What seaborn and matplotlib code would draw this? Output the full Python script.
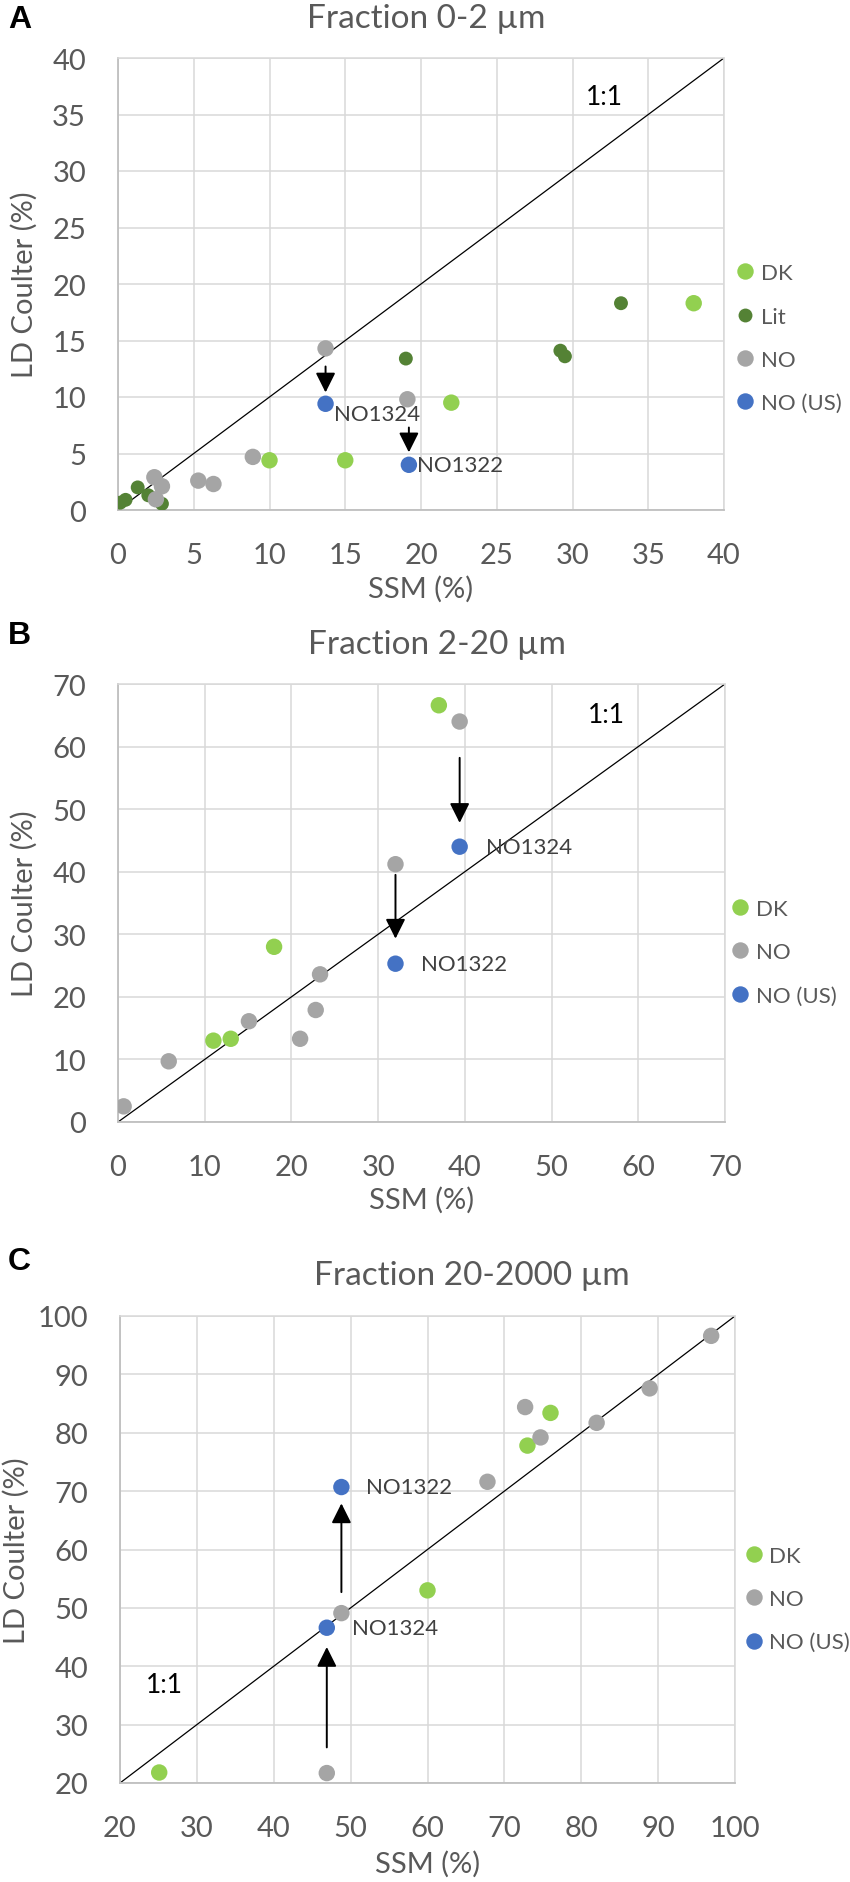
import matplotlib
matplotlib.use("Agg")
import matplotlib.pyplot as plt
import seaborn as sns
import pandas as pd

# ---------------- data ----------------
groups_A = ["DK", "Lit", "NO", "NO (US)"]
groups_BC = ["DK", "NO", "NO (US)"]

# Panel A: Fraction 0-2 um
a_dk_x = [10.0, 15.0, 22.0, 38.0]
a_dk_y = [4.4, 4.4, 9.5, 18.3]
a_lit_x = [0.15, 0.5, 1.3, 2.0, 2.9, 19.0, 29.2, 29.5, 33.2]
a_lit_y = [0.65, 0.9, 2.0, 1.3, 0.55, 13.4, 14.1, 13.6, 18.3]
a_no_x = [2.4, 2.9, 2.5, 5.3, 6.3, 8.9, 13.7, 19.1]
a_no_y = [2.9, 2.1, 0.95, 2.6, 2.3, 4.7, 14.3, 9.8]
a_us_x = [13.7, 19.2]
a_us_y = [9.4, 4.0]
a_us_names = ["NO1324", "NO1322"]
a_arrow_x = [13.7, 19.2]
a_arrow_from = [12.7, 7.3]
a_arrow_to = [10.4, 5.1]
a_line = [0, 40]
a_ticks = [0, 5, 10, 15, 20, 25, 30, 35, 40]

# Panel B: Fraction 2-20 um
b_dk_x = [11.0, 13.0, 18.0, 37.0]
b_dk_y = [13.0, 13.3, 28.0, 66.6]
b_no_x = [0.65, 5.85, 15.1, 21.0, 22.8, 23.3, 32.0, 39.4]
b_no_y = [2.5, 9.7, 16.1, 13.3, 17.9, 23.6, 41.2, 64.0]
b_us_x = [39.4, 32.0]
b_us_y = [44.0, 25.3]
b_us_names = ["NO1324", "NO1322"]
b_arrow_x = [39.4, 32.0]
b_arrow_from = [58.2, 39.5]
b_arrow_to = [47.8, 29.3]
b_line = [0, 70]
b_ticks = [0, 10, 20, 30, 40, 50, 60, 70]

# Panel C: Fraction 20-2000 um
c_dk_x = [25.1, 60.0, 73.0, 76.0]
c_dk_y = [21.8, 53.0, 77.8, 83.4]
c_no_x = [46.9, 48.8, 67.8, 72.7, 74.7, 82.0, 88.9, 96.9]
c_no_y = [21.7, 49.1, 71.6, 84.4, 79.2, 81.7, 87.6, 96.6]
c_us_x = [48.8, 46.9]
c_us_y = [70.7, 46.6]
c_us_names = ["NO1322", "NO1324"]
c_arrow_x = [46.9, 48.8]
c_arrow_from = [26.1, 52.7]
c_arrow_to = [43.3, 67.9]
c_line = [20, 100]
c_ticks = [20, 30, 40, 50, 60, 70, 80, 90, 100]

titles = ["Fraction 0-2 µm", "Fraction 2-20 µm", "Fraction 20-2000 µm"]
panel_letters = ["A", "B", "C"]

palette = {"DK": "#92D050", "Lit": "#548235", "NO": "#A5A5A5", "NO (US)": "#4472C4"}
sizes = {"DK": 140, "Lit": 100, "NO": 140, "NO (US)": 140}

# ---------------- style ----------------
sns.set_style("white")
plt.rcParams["font.family"] = ["Lato", "DejaVu Sans"]
TXT = "#595959"
GRID = "#D9D9D9"
AXC = "#BFBFBF"

W, H = 850, 1883
fig = plt.figure(figsize=(W / 100, H / 100), dpi=100)


def frame(df_rows):
    return pd.DataFrame(df_rows, columns=["x", "y", "group"])


def rows(xs, ys, g):
    return [(x, y, g) for x, y in zip(xs, ys)]


panels = [
    dict(box=(118, 59, 724, 511), groups=groups_A,
         data=rows(a_dk_x, a_dk_y, "DK") + rows(a_lit_x, a_lit_y, "Lit")
         + rows(a_no_x, a_no_y, "NO") + rows(a_us_x, a_us_y, "NO (US)"),
         us=(a_us_x, a_us_y, a_us_names), lab_off=[(8, -10), (8, 0)],
         arrows=(a_arrow_x, a_arrow_from, a_arrow_to), line=a_line, ticks=a_ticks,
         one=(32.1, 36.6), leg=(1.02, 0.38), title_xy=(426, 28), letter_y=20,
         xl=-0.144, yl=-0.132),
    dict(box=(118, 685, 725, 1123), groups=groups_BC,
         data=rows(b_dk_x, b_dk_y, "DK") + rows(b_no_x, b_no_y, "NO")
         + rows(b_us_x, b_us_y, "NO (US)"),
         us=(b_us_x, b_us_y, b_us_names), lab_off=[(26, 0), (26, 0)],
         arrows=(b_arrow_x, b_arrow_from, b_arrow_to), line=b_line, ticks=b_ticks,
         one=(56.3, 65.2), leg=(1.01, 0.388), title_xy=(437, 654), letter_y=636,
         xl=-0.146, yl=-0.132),
    dict(box=(120, 1317, 735, 1784), groups=groups_BC,
         data=rows(c_dk_x, c_dk_y, "DK") + rows(c_no_x, c_no_y, "NO")
         + rows(c_us_x, c_us_y, "NO (US)"),
         us=(c_us_x, c_us_y, c_us_names), lab_off=[(25, 0), (25, 0)],
         arrows=(c_arrow_x, c_arrow_from, c_arrow_to), line=c_line, ticks=c_ticks,
         one=(25.8, 36.8), leg=(1.016, 0.394), title_xy=(472, 1285), letter_y=1262,
         xl=-0.143, yl=-0.146),
]

for i, p in enumerate(panels):
    l, t, r, b = p["box"]
    ax = fig.add_axes([l / W, 1 - b / H, (r - l) / W, (b - t) / H])
    df = frame(p["data"])
    lo, hi = p["line"]

    # 1:1 line
    ax.plot(p["line"], p["line"], color="black", lw=0.9, zorder=2)

    sns.scatterplot(data=df, x="x", y="y", hue="group", size="group",
                    hue_order=p["groups"], size_order=p["groups"],
                    palette={g: palette[g] for g in p["groups"]},
                    sizes={g: sizes[g] for g in p["groups"]},
                    linewidth=0, alpha=1, ax=ax, zorder=3, legend="full")

    # arrows
    ax_x, ax_from, ax_to = p["arrows"]
    for xx, y0, y1 in zip(ax_x, ax_from, ax_to):
        ax.annotate("", xy=(xx, y1), xytext=(xx, y0),
                    arrowprops=dict(arrowstyle="-|>,head_length=0.4,head_width=0.2",
                                    mutation_scale=30, color="black", lw=1.4,
                                    shrinkA=0, shrinkB=0), zorder=4)

    # point labels
    ux, uy, un = p["us"]
    for (xx, yy, nm), off in zip(zip(ux, uy, un), p["lab_off"]):
        ax.annotate(nm, xy=(xx, yy), xytext=(off[0] * 0.72, off[1] * 0.72),
                    textcoords="offset points", ha="left", va="center",
                    fontsize=16, color="#404040", zorder=5)

    ax.text(p["one"][0], p["one"][1], "1:1", ha="center", va="center",
            fontsize=19, color="black")

    ax.set_xlim(lo, hi)
    ax.set_ylim(lo, hi)
    ax.set_xticks(p["ticks"])
    ax.set_yticks(p["ticks"])
    ax.grid(True, color=GRID, lw=1.1, zorder=0)
    ax.set_axisbelow(True)
    for s in ["top", "right"]:
        ax.spines[s].set_color(GRID)
        ax.spines[s].set_linewidth(1.1)
    for s in ["left", "bottom"]:
        ax.spines[s].set_color(AXC)
        ax.spines[s].set_linewidth(1.3)
    ax.tick_params(length=0, labelsize=21, labelcolor=TXT, pad=23)
    ax.set_xlabel("SSM (%)", fontsize=21, color=TXT)
    ax.set_ylabel("LD Coulter (%)", fontsize=21, color=TXT)
    ax.xaxis.set_label_coords(0.5, p["xl"])
    ax.yaxis.set_label_coords(p["yl"], 0.5)

    sns.move_legend(ax, loc="center left", bbox_to_anchor=p["leg"], frameon=False,
                    title=None, fontsize=16, handlelength=0.8, handletextpad=0.3,
                    labelspacing=1.05, borderaxespad=0, borderpad=0)
    for txt in ax.get_legend().get_texts():
        txt.set_color(TXT)

    fig.text(p["title_xy"][0] / W, 1 - p["title_xy"][1] / H, titles[i],
             ha="center", va="baseline", fontsize=24, color=TXT)
    fig.text(8 / W, 1 - p["letter_y"] / H, panel_letters[i], ha="left", va="center",
             fontsize=23, fontweight="bold", color="black",
             family=["Liberation Sans", "DejaVu Sans"])

fig.savefig("out.png", dpi=100)
